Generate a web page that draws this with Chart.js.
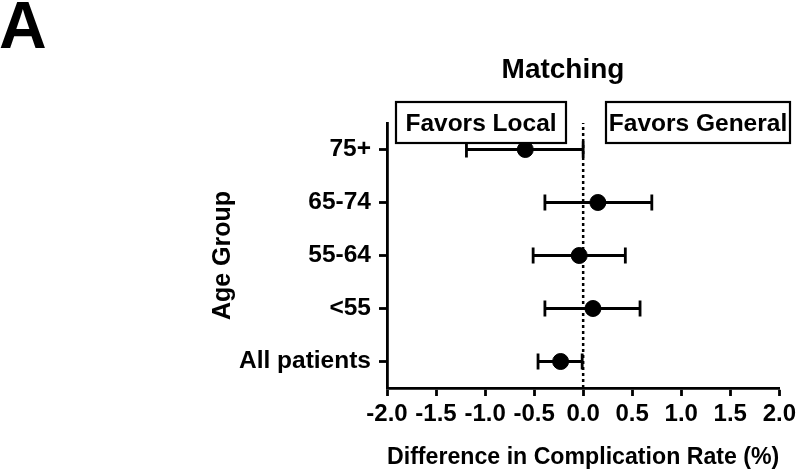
<html>
<head>
  <title>Matching - forest plot</title>
  <style>
    body { margin: 0; background: #fff; }
    canvas { display: block; }
  </style>
</head>
<body>
  <script src="https://cdn.jsdelivr.net/npm/chart.js@4.4.0/dist/chart.umd.min.js"></script>
  <canvas id="myChart" width="800" height="474"></canvas>
  <script>
    // data (top row first)
    const groups = ["75+", "65-74", "55-64", "<55", "All patients"];
    const diffs = [-0.59, 0.15, -0.04, 0.10, -0.23];
    const lower = [-1.19, -0.39, -0.51, -0.39, -0.46];
    const upper = [0.00, 0.70, 0.43, 0.58, -0.01];
    const xTicks = [-2.0, -1.5, -1.0, -0.5, 0.0, 0.5, 1.0, 1.5, 2.0];

    const FONT = "Arial, 'Liberation Sans', Helvetica, sans-serif";
    const LW = 2.8;
    const rowOf = (i) => groups.length - i;

    const points = groups.map((g, i) => ({ x: diffs[i], y: rowOf(i) }));

    // horizontal CI bars with caps + the label boxes / panel letter
    const extras = {
      id: "extras",
      afterDatasetsDraw(chart) {
        const { ctx, scales: { x, y } } = chart;
        ctx.save();
        ctx.strokeStyle = "#000";
        ctx.lineWidth = LW;
        groups.forEach((g, i) => {
          const py = y.getPixelForValue(rowOf(i));
          const x0 = x.getPixelForValue(lower[i]);
          const x1 = x.getPixelForValue(upper[i]);
          ctx.beginPath();
          ctx.moveTo(x0, py); ctx.lineTo(x1, py);
          ctx.moveTo(x0, py - 8); ctx.lineTo(x0, py + 8);
          ctx.moveTo(x1, py - 8); ctx.lineTo(x1, py + 8);
          ctx.stroke();
        });
        ctx.restore();
      },
      afterDraw(chart) {
        const ctx = chart.ctx;
        ctx.save();
        ctx.fillStyle = "#000";
        ctx.textAlign = "left";
        ctx.textBaseline = "alphabetic";
        ctx.font = "bold 66px " + FONT;
        ctx.fillText("A", -1, 48);

        ctx.textAlign = "center";
        ctx.font = "bold 28px " + FONT;
        ctx.fillText("Matching", 563, 78);

        // the two "favors" boxes
        const boxes = [
          { text: "Favors Local", x: 396, w: 170 },
          { text: "Favors General", x: 606, w: 184 },
        ];
        ctx.font = "bold 24.5px " + FONT;
        ctx.lineWidth = 2.2;
        boxes.forEach(b => {
          ctx.fillStyle = "#fff";
          ctx.fillRect(b.x, 102, b.w, 41);
          ctx.strokeStyle = "#000";
          ctx.strokeRect(b.x, 102, b.w, 41);
          ctx.fillStyle = "#000";
          ctx.fillText(b.text, b.x + b.w / 2, 131);
        });
        ctx.restore();
      }
    };

    const config = {
      type: "scatter",
      data: {
        datasets: [
          {
            // dotted zero line
            type: "line",
            data: [{ x: 0, y: 0.5 }, { x: 0, y: 5.5 }],
            borderColor: "#000",
            borderWidth: 2.5,
            borderDash: [3, 3],
            pointRadius: 0,
          },
          {
            label: "Matching",
            data: points,
            backgroundColor: "#000",
            borderColor: "#000",
            pointRadius: 8,
          }
        ]
      },
      options: {
        responsive: false,
        animation: false,
        devicePixelRatio: 1,
        layout: { padding: { left: 204, top: 123, right: 18, bottom: 0 } },
        plugins: {
          legend: { display: false },
          title: { display: false },
          tooltip: { enabled: false }
        },
        scales: {
          x: {
            type: "linear",
            min: -2,
            max: 2,
            afterBuildTicks: (s) => { s.ticks = xTicks.map(v => ({ value: v })); },
            afterFit: (s) => { s.height = 86; },
            border: { color: "#000", width: LW },
            grid: { drawOnChartArea: false, tickLength: 8, tickWidth: LW, tickColor: "#000" },
            ticks: {
              color: "#000",
              padding: 4,
              font: { family: FONT, size: 24, weight: "bold" },
              callback: (v) => v.toFixed(1),
            },
            title: {
              display: true,
              text: "Difference in Complication Rate (%)",
              color: "#000",
              padding: { top: 0, bottom: 2 },
              font: { family: FONT, size: 24.5, weight: "bold" }
            }
          },
          y: {
            type: "linear",
            min: 0.5,
            max: 5.5,
            afterBuildTicks: (s) => { s.ticks = groups.map((g, i) => ({ value: rowOf(i) })); },
            afterFit: (s) => { s.width = 183; },
            border: { color: "#000", width: LW },
            grid: { drawOnChartArea: false, tickLength: 8, tickWidth: LW, tickColor: "#000" },
            ticks: {
              color: "#000",
              padding: 8,
              font: { family: FONT, size: 24.5, weight: "bold" },
              callback: (v) => groups[groups.length - v],
            },
            title: {
              display: true,
              text: "Age Group",
              color: "#000",
              padding: { top: 4, bottom: 0 },
              font: { family: FONT, size: 25, weight: "bold" }
            }
          }
        }
      },
      plugins: [extras]
    };

    const ctx = document.getElementById("myChart");
    let myChart = new Chart(ctx, config);
  </script>
</body>
</html>
